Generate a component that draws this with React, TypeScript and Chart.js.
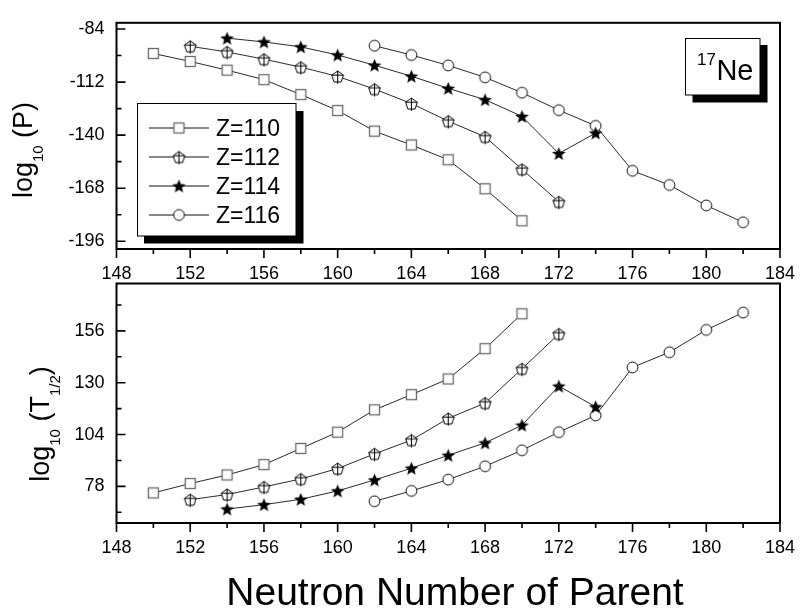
import React, { useEffect, useRef } from 'react';
import { Chart, registerables } from 'chart.js';

Chart.register(...registerables);

// ---------- data ----------
const N_110 = [150, 152, 154, 156, 158, 160, 162, 164, 166, 168, 170];
const N_112 = [152, 154, 156, 158, 160, 162, 164, 166, 168, 170, 172];
const N_114 = [154, 156, 158, 160, 162, 164, 166, 168, 170, 172, 174];
const N_116 = [162, 164, 166, 168, 170, 172, 174, 176, 178, 180, 182];

const LOGP_110 = [-96.9, -101.1, -105.7, -110.7, -118.6, -127.0, -137.9, -145.2, -153.0, -168.3, -185.2];
const LOGP_112 = [-93.1, -96.1, -99.9, -104.1, -109.0, -115.7, -123.3, -132.6, -140.9, -158.0, -175.2];
const LOGP_114 = [-88.8, -90.8, -93.4, -97.7, -103.1, -108.9, -115.3, -121.3, -130.1, -149.7, -138.9];
const LOGP_116 = [-92.8, -97.7, -103.2, -109.5, -117.6, -126.8, -135.1, -158.8, -166.3, -177.1, -186.0];

const LOGT_110 = [74.7, 79.4, 83.7, 88.9, 97.0, 105.2, 116.4, 124.0, 131.9, 147.1, 164.6];
const LOGT_112 = [71.3, 73.9, 77.7, 81.7, 86.9, 94.3, 101.2, 112.1, 119.8, 137.0, 154.5];
const LOGT_114 = [66.6, 68.8, 71.5, 75.7, 81.2, 87.1, 93.6, 99.8, 108.7, 128.3, 117.9];
const LOGT_116 = [70.5, 75.7, 81.4, 88.1, 96.1, 105.2, 113.6, 137.7, 145.3, 156.5, 165.2];

const SERIES_LABELS = ['Z=110', 'Z=112', 'Z=114', 'Z=116'];
const X_TICKS = [148, 152, 156, 160, 164, 168, 172, 176, 180, 184];
const P_TICKS = [-84, -112, -140, -168, -196];
const T_TICKS = [78, 104, 130, 156];
const EMITTED_MASS = '17';
const EMITTED_SYMBOL = 'Ne';
const X_TITLE = 'Neutron Number of Parent';

const FONT = '"Liberation Sans", Arial, Helvetica, sans-serif';

type Kind = 'square' | 'pentagon' | 'star' | 'circle';
const KINDS: Kind[] = ['square', 'pentagon', 'star', 'circle'];

function makeMarker(kind: Kind): HTMLCanvasElement {
  const c = document.createElement('canvas');
  c.width = 17;
  c.height = 17;
  const ctx = c.getContext('2d')!;
  const cx = 8.5;
  const cy = 8.5;
  ctx.fillStyle = '#fff';
  ctx.strokeStyle = '#000';
  ctx.lineWidth = 1;
  if (kind === 'square') {
    ctx.strokeStyle = '#6a6a6a';
    ctx.lineWidth = 1.3;
    ctx.fillRect(3, 3, 11, 11);
    ctx.strokeRect(3.5, 3.5, 10, 10);
  } else if (kind === 'circle') {
    ctx.beginPath();
    ctx.arc(cx, cy, 5.4, 0, Math.PI * 2);
    ctx.fill();
    ctx.stroke();
  } else if (kind === 'pentagon') {
    const R = 6.1;
    const py = cy + 0.6;
    ctx.beginPath();
    for (let k = 0; k < 5; k++) {
      const a = -Math.PI / 2 + (k * 2 * Math.PI) / 5;
      const x = cx + R * Math.cos(a);
      const y = py + R * Math.sin(a);
      if (k === 0) ctx.moveTo(x, y);
      else ctx.lineTo(x, y);
    }
    ctx.closePath();
    ctx.fill();
    ctx.stroke();
    ctx.beginPath();
    ctx.moveTo(cx, py - R);
    ctx.lineTo(cx, py + R * 0.809 + 1.8);
    ctx.moveTo(cx - R * 0.951, py - R * 0.309);
    ctx.lineTo(cx + R * 0.951, py - R * 0.309);
    ctx.stroke();
  } else if (kind === 'star') {
    const R = 7.2;
    const r = R * 0.43;
    ctx.fillStyle = '#000';
    ctx.beginPath();
    for (let k = 0; k < 10; k++) {
      const a = -Math.PI / 2 + (k * Math.PI) / 5;
      const rr = k % 2 === 0 ? R : r;
      const x = cx + rr * Math.cos(a);
      const y = cy + 0.6 + rr * Math.sin(a);
      if (k === 0) ctx.moveTo(x, y);
      else ctx.lineTo(x, y);
    }
    ctx.closePath();
    ctx.fill();
  }
  return c;
}

function drawRotatedTitle(
  ctx: CanvasRenderingContext2D,
  baselineX: number,
  centerY: number,
  parts: { t: string; sub?: boolean }[]
) {
  const mainFont = `27px ${FONT}`;
  const subFont = `15px ${FONT}`;
  ctx.save();
  ctx.translate(baselineX, centerY);
  ctx.rotate(-Math.PI / 2);
  ctx.fillStyle = '#000';
  ctx.textBaseline = 'alphabetic';
  ctx.textAlign = 'left';
  let total = 0;
  for (const p of parts) {
    ctx.font = p.sub ? subFont : mainFont;
    total += ctx.measureText(p.t).width;
  }
  let x = -total / 2;
  for (const p of parts) {
    ctx.font = p.sub ? subFont : mainFont;
    ctx.fillText(p.t, x, p.sub ? 11 : 0);
    x += ctx.measureText(p.t).width;
  }
  ctx.restore();
}

function framePlugin(id: string, drawExtra: (chart: any) => void) {
  return {
    id,
    afterDraw(chart: any) {
      const { ctx, chartArea: a, scales } = chart;
      const xs = scales.x;
      const ys = scales.y;
      ctx.save();
      ctx.strokeStyle = '#000';
      // x ticks (outward), major at labelled ticks, minor halfway
      ctx.lineWidth = 1.6;
      const xt: number[] = xs.ticks.map((t: any) => t.value);
      ctx.beginPath();
      xt.forEach((v, i) => {
        const px = xs.getPixelForValue(v);
        ctx.moveTo(px, a.bottom);
        ctx.lineTo(px, a.bottom + 9);
        if (i < xt.length - 1) {
          const pm = xs.getPixelForValue((v + xt[i + 1]) / 2);
          ctx.moveTo(pm, a.bottom);
          ctx.lineTo(pm, a.bottom + 5);
        }
      });
      ctx.stroke();
      // y ticks (inward)
      const yt: number[] = ys.ticks.map((t: any) => t.value);
      const step = yt.length > 1 ? yt[1] - yt[0] : 0;
      const minors: number[] = [];
      yt.forEach((v) => minors.push(v + step / 2));
      minors.push(yt[0] - step / 2);
      ctx.beginPath();
      yt.forEach((v) => {
        const py = ys.getPixelForValue(v);
        ctx.moveTo(a.left, py);
        ctx.lineTo(a.left + 9, py);
      });
      minors.forEach((v) => {
        if (v < ys.min || v > ys.max) return;
        const py = ys.getPixelForValue(v);
        ctx.moveTo(a.left, py);
        ctx.lineTo(a.left + 5, py);
      });
      ctx.stroke();
      // frame
      ctx.lineWidth = 2;
      ctx.strokeRect(a.left, a.top, a.right - a.left, a.bottom - a.top);
      ctx.restore();
      drawExtra(chart);
    },
  };
}

function buildDatasets(xsets: number[][], ysets: number[][], markers: HTMLCanvasElement[]) {
  return xsets.map((xs, si) => ({
    label: SERIES_LABELS[si],
    data: xs.map((n, i) => ({ x: n, y: ysets[si][i] })),
    borderColor: '#2a2a2a',
    borderWidth: 1,
    pointStyle: markers[si],
    pointRadius: 5,
    pointHoverRadius: 5,
    tension: 0,
    fill: false,
  }));
}

function axisOptions(
  yMin: number,
  yMax: number,
  yTicks: number[],
  xHeight: number
) {
  return {
    x: {
      type: 'linear',
      min: 148,
      max: 184,
      afterBuildTicks: (s: any) => {
        s.ticks = X_TICKS.map((v) => ({ value: v }));
      },
      afterFit: (s: any) => {
        s.height = xHeight;
      },
      grid: { display: false, drawTicks: false, tickLength: 0 },
      border: { display: false },
      ticks: {
        autoSkip: false,
        maxRotation: 0,
        padding: 14,
        color: '#000',
        font: { family: FONT, size: 18 },
        callback: (v: any) => String(v),
      },
    },
    y: {
      type: 'linear',
      min: yMin,
      max: yMax,
      afterBuildTicks: (s: any) => {
        s.ticks = yTicks.map((v) => ({ value: v }));
      },
      afterFit: (s: any) => {
        s.width = 116.5;
      },
      grid: { display: false, drawTicks: false, tickLength: 0 },
      border: { display: false },
      ticks: {
        autoSkip: false,
        padding: 12,
        color: '#000',
        font: { family: FONT, size: 18 },
        callback: (v: any) => String(v),
      },
    },
  };
}

export default function App() {
  const topRef = useRef<HTMLCanvasElement>(null);
  const botRef = useRef<HTMLCanvasElement>(null);

  useEffect(() => {
    const markers = KINDS.map((k) => makeMarker(k));

    const topExtra = (chart: any) => {
      const ctx: CanvasRenderingContext2D = chart.ctx;
      ctx.save();
      // y title
      drawRotatedTitle(ctx, 32, 150, [{ t: 'log' }, { t: '10', sub: true }, { t: ' (P)' }]);
      // legend
      ctx.fillStyle = '#000';
      ctx.fillRect(144, 111, 159.5, 132.5);
      ctx.fillStyle = '#fff';
      ctx.fillRect(137.5, 103.5, 158.5, 132.5);
      ctx.strokeStyle = '#000';
      ctx.lineWidth = 1;
      ctx.strokeRect(137.5, 103.5, 158.5, 132.5);
      SERIES_LABELS.forEach((lab, i) => {
        const ry = 128 + i * 29;
        ctx.strokeStyle = '#111';
        ctx.lineWidth = 1;
        ctx.beginPath();
        ctx.moveTo(149, ry);
        ctx.lineTo(209, ry);
        ctx.stroke();
        const m = markers[i];
        ctx.drawImage(m, 179 - m.width / 2, ry - m.height / 2);
        ctx.fillStyle = '#000';
        ctx.font = `23px ${FONT}`;
        ctx.textBaseline = 'alphabetic';
        ctx.textAlign = 'left';
        ctx.fillText(lab, 216, ry + 7.5);
      });
      // emitted cluster box
      ctx.fillStyle = '#000';
      ctx.fillRect(692.5, 45, 75, 57.5);
      ctx.fillStyle = '#fff';
      ctx.fillRect(685.5, 38.5, 74.5, 56.5);
      ctx.strokeStyle = '#000';
      ctx.lineWidth = 1;
      ctx.strokeRect(685.5, 38.5, 74.5, 56.5);
      ctx.fillStyle = '#000';
      ctx.font = `17px ${FONT}`;
      ctx.fillText(EMITTED_MASS, 697, 65);
      const w17 = ctx.measureText(EMITTED_MASS).width;
      ctx.font = `29px ${FONT}`;
      ctx.fillText(EMITTED_SYMBOL, 697 + w17 + 0.5, 80);
      ctx.restore();
    };

    const botExtra = (chart: any) => {
      const ctx: CanvasRenderingContext2D = chart.ctx;
      ctx.save();
      drawRotatedTitle(ctx, 49, 424, [
        { t: 'log' },
        { t: '10', sub: true },
        { t: ' (T' },
        { t: '1/2', sub: true },
        { t: ')' },
      ]);
      ctx.fillStyle = '#000';
      ctx.font = `39px ${FONT}`;
      ctx.textAlign = 'center';
      ctx.textBaseline = 'alphabetic';
      ctx.fillText(X_TITLE, 455, 604.5);
      ctx.restore();
    };

    const common = {
      responsive: false,
      animation: false,
      devicePixelRatio: 1,
      events: [],
      plugins: { legend: { display: false }, tooltip: { enabled: false } },
    };

    const c1 = new Chart(topRef.current!, {
      type: 'line',
      data: {
        datasets: buildDatasets(
          [N_110, N_112, N_114, N_116],
          [LOGP_110, LOGP_112, LOGP_114, LOGP_116],
          markers
        ) as any,
      },
      options: {
        ...common,
        layout: { padding: { top: 9, right: 18.5, bottom: 0, left: 0 } },
        scales: axisOptions(-200.1, -80.7, P_TICKS, 364) as any,
      } as any,
      plugins: [framePlugin('frameTop', topExtra)],
    });

    const c2 = new Chart(botRef.current!, {
      type: 'line',
      data: {
        datasets: buildDatasets(
          [N_110, N_112, N_114, N_116],
          [LOGT_110, LOGT_112, LOGT_114, LOGT_116],
          markers
        ) as any,
      },
      options: {
        ...common,
        layout: { padding: { top: 283.5, right: 18.5, bottom: 0, left: 0 } },
        scales: axisOptions(59.6, 179.8, T_TICKS, 90) as any,
      } as any,
      plugins: [framePlugin('frameBot', botExtra)],
    });

    return () => {
      c1.destroy();
      c2.destroy();
    };
  }, []);

  return (
    <div style={{ position: 'fixed', left: 0, top: 0, width: 809, height: 613, background: '#fff' }}>
      <canvas ref={topRef} width={809} height={613} style={{ position: 'absolute', left: 0, top: 0 }} />
      <canvas ref={botRef} width={809} height={613} style={{ position: 'absolute', left: 0, top: 0 }} />
    </div>
  );
}
